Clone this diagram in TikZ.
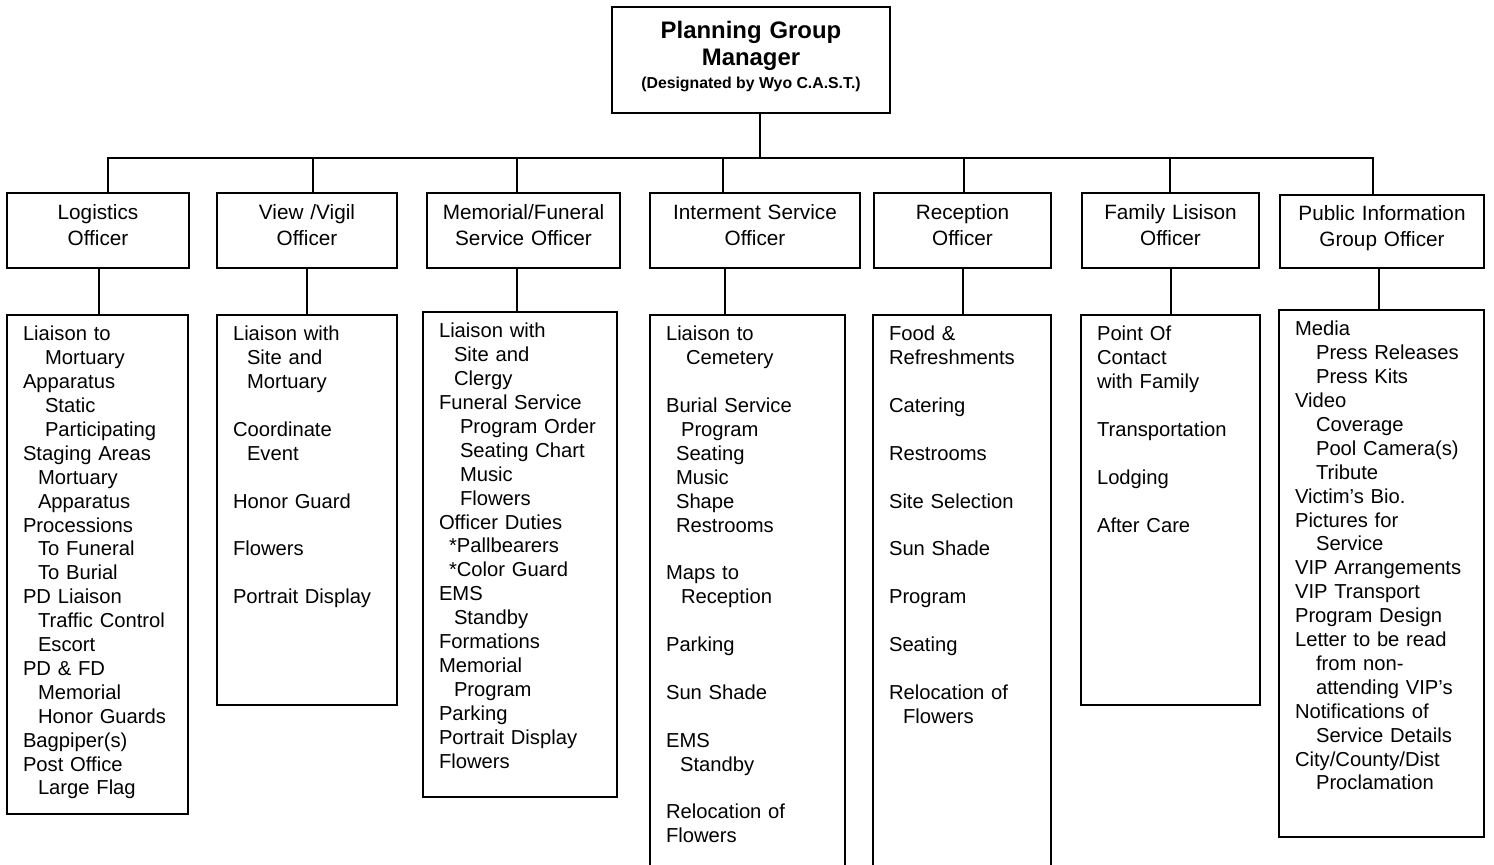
\documentclass[tikz,border=0pt]{standalone}
\usepackage{fontspec}
\setmainfont{Liberation Sans}
\usepackage{tikz}
\usetikzlibrary{positioning}
\newcommand{\ind}[1][0.3cm]{\hspace*{#1}}
\tikzset{
    mgrbox/.style={rectangle, draw, line width=1.1pt, text width=5.56cm, text height=0.63cm,
        text depth=1.49cm, inner sep=0pt, align=center, font=\bfseries\fontsize{13.6}{15.4}\selectfont},
    officerbox/.style={rectangle, draw, line width=1.1pt, text height=0.52cm, text depth=0.98cm,
        inner sep=0pt, align=center, font=\fontsize{11.8}{15.2}\selectfont},
    listbox/.style 2 args={rectangle, draw, line width=1.1pt, align=left, inner xsep=0.32cm,
        inner ysep=0pt, text width=#1, text height=0.52cm, text depth=#2,
        font=\fontsize{11.5}{13.6}\selectfont},
    link/.style={line width=1.1pt},
}

\begin{document}
\begin{tikzpicture}[x=0.02cm, y=-0.02cm]
    \useasboundingbox (0,0) rectangle (1494,865);
    \clip (0,0) rectangle (1494,865);

    % manager and officers
    \node[mgrbox] (mgr) at (751,60) {Planning Group\\Manager\\[-2.6pt]\mbox{\fontsize{9}{11}\selectfont\spaceskip=0pt (Designated by Wyo C.A.S.T.)}};
    \node[officerbox, text width=3.64cm] (logi) at (98,230.5) {Logistics\\Officer};
    \node[officerbox, text width=3.6cm] (view) at (307,230.5) {View /Vigil\\Officer};
    \node[officerbox, text width=3.86cm] (memo) at (523.5,230.5) {Memorial/Funeral\\Service Officer};
    \node[officerbox, text width=4.2cm] (intr) at (755,230.5) {Interment Service\\Officer};
    \node[officerbox, text width=3.54cm] (recp) at (962.5,230.5) {Reception\\Officer};
    \node[officerbox, text width=3.54cm] (fami) at (1170.5,230.5) {Family Lisison\\Officer};
    \node[officerbox, text width=4.08cm, text height=0.5cm, text depth=0.96cm] (publ) at (1382,231.5) {Public Information\\Group Officer};

    % duty lists below each officer
    \node[listbox={2.98cm}{9.46cm}, below=0.9cm of logi.south west, anchor=north west] (logilist) {%
        Liaison to\\
        \ind[0.44cm]Mortuary\\
        Apparatus\\
        \ind[0.44cm]Static\\
        \ind[0.44cm]Participating\\
        Staging Areas\\
        \ind Mortuary\\
        \ind Apparatus\\
        Processions\\
        \ind To Funeral\\
        \ind To Burial\\
        PD Liaison\\
        \ind Traffic Control\\
        \ind Escort\\
        PD \& FD\\
        \ind Memorial\\
        \ind Honor Guards\\
        Bagpiper(s)\\
        Post Office\\
        \ind Large Flag};
    \node[listbox={2.96cm}{7.28cm}, below=0.9cm of view.south west, anchor=north west] (viewlist) {%
        Liaison with\\
        \ind[0.28cm]Site and\\
        \ind[0.28cm]Mortuary\\[\baselineskip]
        Coordinate\\
        \ind[0.28cm]Event\\[\baselineskip]
        Honor Guard\\[\baselineskip]
        Flowers\\[\baselineskip]
        Portrait Display};
    \node[listbox={3.24cm}{9.18cm}, below=0.84cm of memo.south west, xshift=-0.08cm, anchor=north west] (memolist) {%
        Liaison with\\
        \ind Site and\\
        \ind Clergy\\
        Funeral Service\\
        \ind[0.42cm]Program Order\\
        \ind[0.42cm]Seating Chart\\
        \ind[0.42cm]Music\\
        \ind[0.42cm]Flowers\\
        Officer Duties\\
        \ind[0.2cm]*Pallbearers\\
        \ind[0.2cm]*Color Guard\\
        EMS\\
        \ind Standby\\
        Formations\\
        Memorial\\
        \ind Program\\
        Parking\\
        Portrait Display\\
        Flowers};
    \node[listbox={3.26cm}{10.82cm}, below=0.9cm of intr.south west, anchor=north west] (intrlist) {%
        Liaison to\\
        \ind[0.4cm]Cemetery\\[\baselineskip]
        Burial Service\\
        \ind Program\\
        \ind[0.2cm]Seating\\
        \ind[0.2cm]Music\\
        \ind[0.2cm]Shape\\
        \ind[0.2cm]Restrooms\\[\baselineskip]
        Maps to\\
        \ind Reception\\[\baselineskip]
        Parking\\[\baselineskip]
        Sun Shade\\[\baselineskip]
        EMS\\
        \ind[0.28cm]Standby\\[\baselineskip]
        Relocation of\\
        Flowers};
    \node[listbox={2.92cm}{10.82cm}, below=0.9cm of recp.south west, xshift=-0.02cm, anchor=north west] (recplist) {%
        Food \&\\
        Refreshments\\[\baselineskip]
        Catering\\[\baselineskip]
        Restrooms\\[\baselineskip]
        Site Selection\\[\baselineskip]
        Sun Shade\\[\baselineskip]
        Program\\[\baselineskip]
        Seating\\[\baselineskip]
        Relocation of\\
        \ind[0.28cm]Flowers};
    \node[listbox={2.94cm}{7.28cm}, below=0.9cm of fami.south west, xshift=-0.02cm, anchor=north west] (familist) {%
        Point Of\\
        Contact\\
        with Family\\[\baselineskip]
        Transportation\\[\baselineskip]
        Lodging\\[\baselineskip]
        After Care};
    \node[listbox={3.46cm}{10.02cm}, below=0.8cm of publ.south west, xshift=-0.02cm, anchor=north west] (publlist) {%
        Media\\
        \ind[0.42cm]Press Releases\\
        \ind[0.42cm]Press Kits\\
        Video\\
        \ind[0.42cm]Coverage\\
        \ind[0.42cm]Pool Camera(s)\\
        \ind[0.42cm]Tribute\\
        Victim's Bio.\\
        Pictures for\\
        \ind[0.42cm]Service\\
        VIP Arrangements\\
        VIP Transport\\
        Program Design\\
        Letter to be read\\
        \ind[0.42cm]from non-\\
        \ind[0.42cm]attending VIP's\\
        Notifications of\\
        \ind[0.42cm]Service Details\\
        City/County/Dist\\
        \ind[0.42cm]Proclamation};

    % bus from manager to the officers
    \coordinate (bus) at (0,158);
    \draw[link] (760,0 |- mgr.south) -- (760,0 |- bus);
    \draw[link] (108,0 |- logi.north) -- (108,0 |- bus) -- (1373,0 |- bus) -- (1373,0 |- publ.north);
    \draw[link] (313,0 |- view.north) -- (313,0 |- bus);
    \draw[link] (517,0 |- memo.north) -- (517,0 |- bus);
    \draw[link] (723,0 |- intr.north) -- (723,0 |- bus);
    \draw[link] (964,0 |- recp.north) -- (964,0 |- bus);
    \draw[link] (1170,0 |- fami.north) -- (1170,0 |- bus);

    % officer to list
    \draw[link] (99,0 |- logi.south) -- (99,0 |- logilist.north);
    \draw[link] (307,0 |- view.south) -- (307,0 |- viewlist.north);
    \draw[link] (517,0 |- memo.south) -- (517,0 |- memolist.north);
    \draw[link] (725,0 |- intr.south) -- (725,0 |- intrlist.north);
    \draw[link] (963,0 |- recp.south) -- (963,0 |- recplist.north);
    \draw[link] (1171,0 |- fami.south) -- (1171,0 |- familist.north);
    \draw[link] (1379,0 |- publ.south) -- (1379,0 |- publlist.north);
\end{tikzpicture}
\end{document}
